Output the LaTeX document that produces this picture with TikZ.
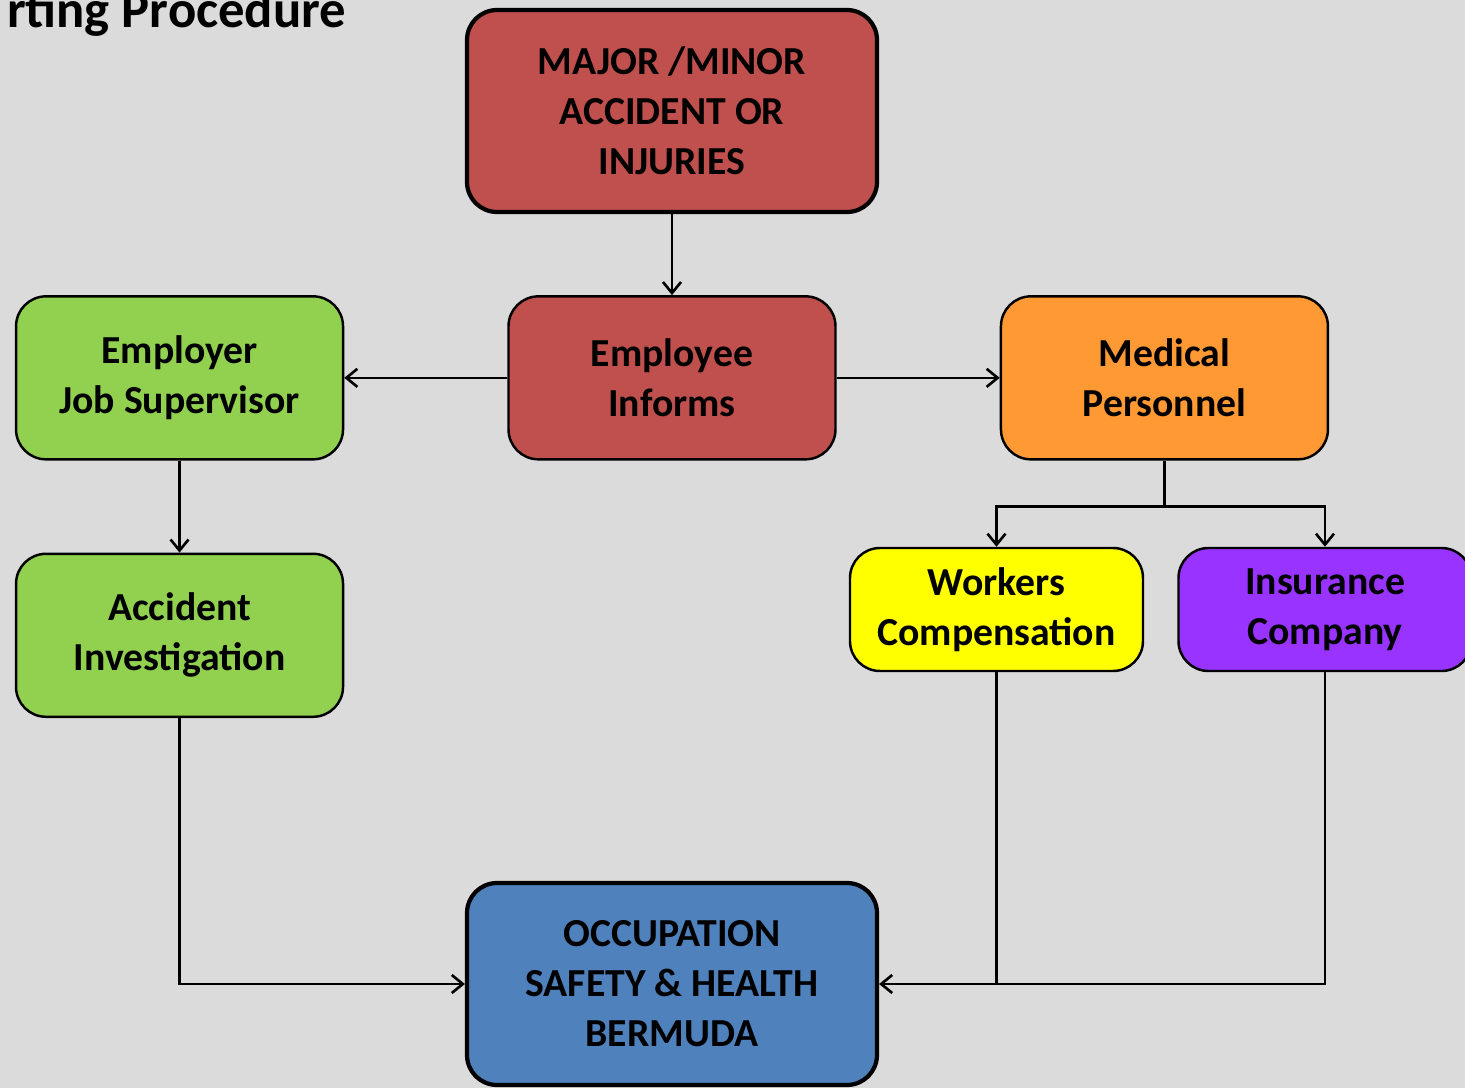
\documentclass[tikz,border=0pt]{standalone}
\usepackage{fontspec}
\setmainfont{Carlito}
\usetikzlibrary{positioning, arrows.meta, backgrounds}

\definecolor{accred}{HTML}{C0504D}
\definecolor{supgreen}{HTML}{92D050}
\definecolor{medorange}{HTML}{FF9933}
\definecolor{wcyellow}{HTML}{FFFF00}
\definecolor{inspurple}{HTML}{9933FF}
\definecolor{oshblue}{HTML}{4F81BD}
\definecolor{pagegray}{HTML}{DBDBDB}

\tikzset{
    box/.style={draw=black, rounded corners=0.3cm, align=center, inner sep=0pt,
        font=\fontsize{11.3}{14.2}\selectfont\bfseries, line width=0.7pt,
        minimum width=3.27cm, minimum height=1.63cm},
    bigbox/.style={box, line width=1.2pt, minimum width=4.1cm, minimum height=2.02cm},
    smallbox/.style={box, minimum width=2.93cm, minimum height=1.23cm},
    link/.style={-{Straight Barb[length=1.1mm, width=1.8mm]}, line width=0.75pt},
}

\begin{document}
\begin{tikzpicture}[]
\useasboundingbox (0,0) rectangle (14.65,-10.88);
\fill[pagegray] (0,0) rectangle (14.65,-10.88);

\node[anchor=base east, inner sep=0pt, font=\fontsize{15}{18}\selectfont\bfseries] (title) at (3.47,-0.27) {rting Procedure};

\node[bigbox, fill=accred] (accident) at (6.72,-1.11) {MAJOR /MINOR\\ACCIDENT OR\\INJURIES};
\node[box, fill=accred] (employee) [below=0.81cm of accident] {Employee\\Informs};
\node[box, fill=supgreen] (employer) [left=1.63cm of employee] {Employer\\Job Supervisor};
\node[box, fill=medorange] (medical) [right=1.63cm of employee] {Medical\\Personnel};
\node[box, fill=supgreen] (investigation) [below=0.92cm of employer] {Accident\\Investigation};

\node[smallbox, fill=wcyellow] (workers) at (9.965,-6.095) {Workers\\Compensation};
\node[smallbox, fill=inspurple] (insurance) at (13.25,-6.095) {Insurance\\Company};

\node[bigbox, fill=oshblue] (oshb) at (6.72,-9.84) {OCCUPATION\\SAFETY \& HEALTH\\BERMUDA};

\coordinate (split) at ([yshift=-0.46cm]medical.south);
\coordinate (meet) at (workers.south |- oshb.east);

\draw[link] (accident) -- (employee);
\draw[link] (employee) -- (employer);
\draw[link] (employee) -- (medical);
\draw[link] (employer) -- (investigation);
\draw[line width=0.75pt] (medical.south) -- (split);
\draw[link] (split) -| (workers.north);
\draw[link] (split) -| (insurance.north);
\draw[link] (investigation.south) |- (oshb.west);
\draw[link] (workers.south) -- (meet) -- (oshb.east);
\draw[line width=0.75pt] (insurance.south) |- (meet);
\end{tikzpicture}
\end{document}
